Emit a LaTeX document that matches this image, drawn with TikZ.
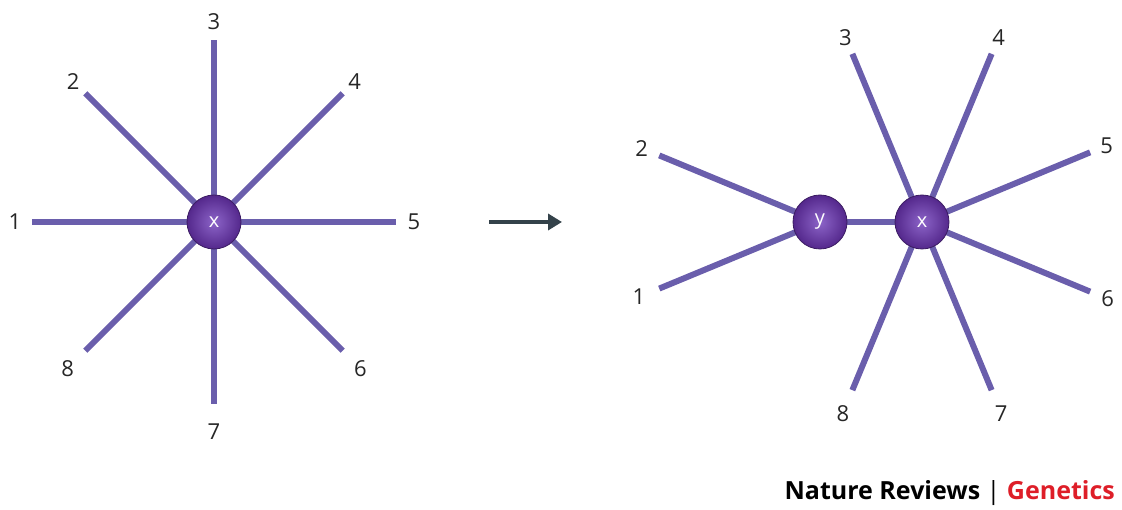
\documentclass[tikz,border=0pt]{standalone}
\usepackage{fontspec}
\setmainfont{Open Sans}
\usetikzlibrary{arrows.meta,calc}
\definecolor{spoke}{RGB}{106,94,172}
\definecolor{hubin}{RGB}{140,100,200}
\definecolor{hubout}{RGB}{84,40,140}
\definecolor{arrowgrey}{RGB}{52,66,74}
\definecolor{natred}{RGB}{222,30,40}
\tikzset{
  spokeline/.style={line width=6pt, spoke},
  hubnode/.style={circle, minimum size=54pt, inner sep=0pt, draw=hubout!70!black, line width=0.8pt,
    shading=radial, inner color=hubin, outer color=hubout, text=white, font=\fontsize{20}{20}\selectfont},
  numlabel/.style={font=\fontsize{22}{22}\selectfont, text=black!85, inner sep=0pt}
}
\begin{document}
\begin{tikzpicture}[x=1pt, y=1pt]
			\useasboundingbox (0,0) rectangle (1122,509);
			% left star
			\coordinate (cx) at (214,287);
			\foreach \n/\d in {1/199,2/199,3/200,4/199,5/200,6/207,7/210,8/207}{
				\pgfmathsetmacro{\ang}{225-45*\n}
				\coordinate (e\n) at ($(cx)+(\ang:182)$);
				\node[numlabel] (l\n) at ($(cx)+(\ang:\d)$) {\n};
				\draw[spokeline] (cx) -- (e\n);
			}
			\node[hubnode] (x) at (cx) {x};
			% arrow
			\coordinate (a1) at (489,287);
			\coordinate (a2) at (562,287);
			\draw[line width=3.5pt, arrowgrey, -{Triangle[length=14pt, width=16pt]}] (a1) -- (a2);
			% right tree
			\coordinate (cy) at (820,287);
			\coordinate (cx2) at (922,287);
			\foreach \n/\ang/\d in {2/157.5/193, 1/202.5/196}{
				\coordinate (f\n) at ($(cy)+(\ang:174)$);
				\node[numlabel] (m\n) at ($(cy)+(\ang:\d)$) {\n};
				\draw[spokeline] (cy) -- (f\n);
			}
			\foreach \n/\ang/\d in {3/112.5/200, 4/67.5/200, 5/22.5/200, 6/-22.5/201, 7/-67.5/207, 8/-112.5/207}{
				\coordinate (f\n) at ($(cx2)+(\ang:182)$);
				\node[numlabel] (m\n) at ($(cx2)+(\ang:\d)$) {\n};
				\draw[spokeline] (cx2) -- (f\n);
			}
			\draw[spokeline] (cy) -- (cx2);
			\node[hubnode] (y) at (cy) {y};
			\node[hubnode] (x2) at (cx2) {x};
			% credit
			\node[anchor=east, inner sep=0pt, font=\fontsize{25}{25}\selectfont\bfseries] (credit) at (1115,16)
				{Nature Reviews {\mdseries|} \textcolor{natred}{Genetics}};
	\end{tikzpicture}
\end{document}
